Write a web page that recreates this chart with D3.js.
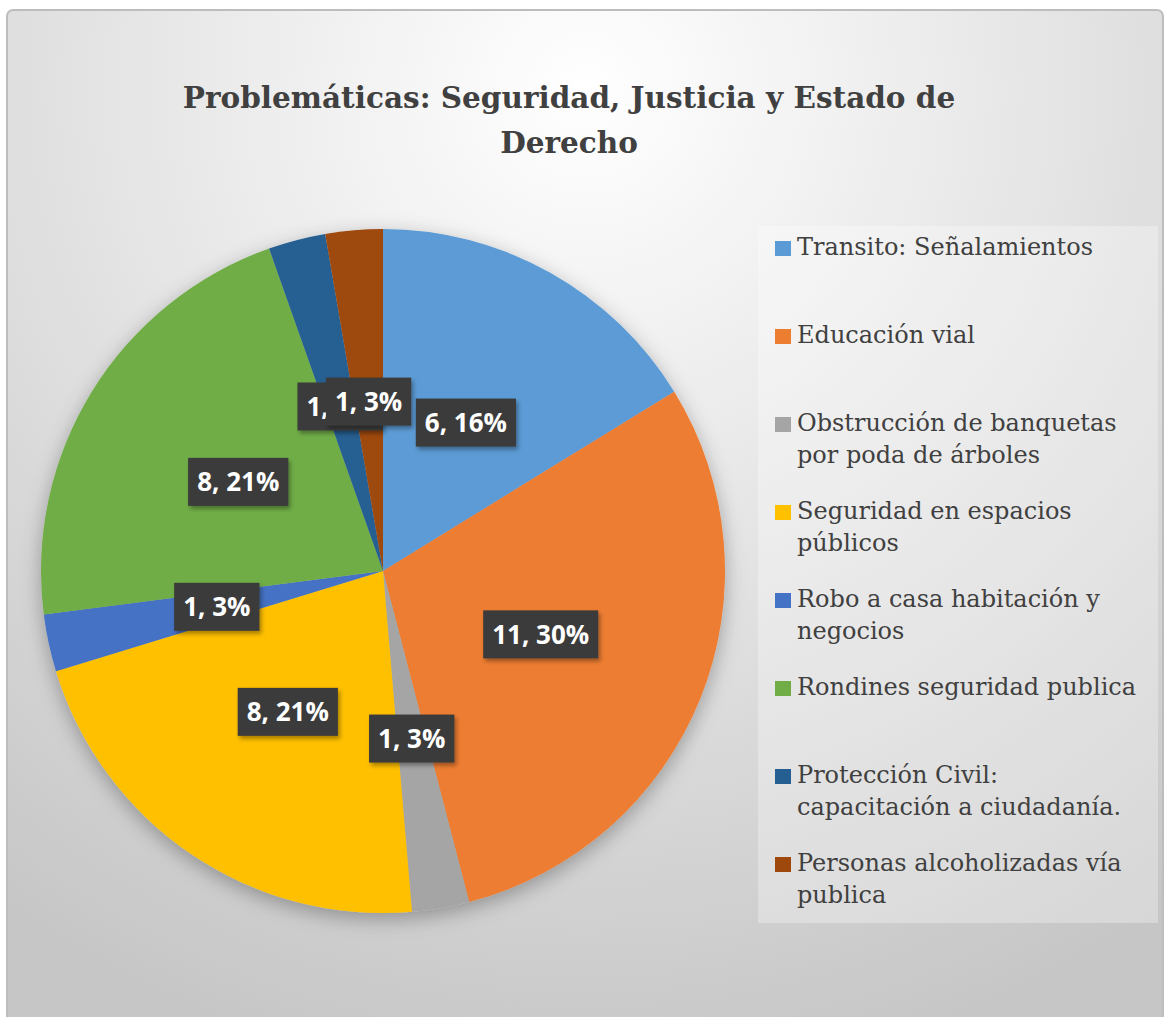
<!DOCTYPE html>
<html lang="es">
  <head>
    <meta charset="UTF-8" />
    <title>Problemáticas: Seguridad, Justicia y Estado de Derecho</title>
    <style>
      body {
        margin: 0;
        background: #fff;
      }
      .title {
        font-family: "DejaVu Serif", "Liberation Serif", serif;
        font-weight: bold;
        fill: #404040;
      }
      .legend text {
        font-family: "DejaVu Serif", "Liberation Serif", serif;
        fill: #404040;
      }
      .label text {
        font-family: "Open Sans", sans-serif;
        font-weight: bold;
        fill: #fff;
      }
    </style>
  </head>
  <body>
    <div id="chart"></div>
    <script src="https://cdn.jsdelivr.net/npm/d3@7"></script>
    <script>
      /* global d3 */

      const titleLines = [
        "Problemáticas: Seguridad, Justicia y Estado de",
        "Derecho"
      ];

      const categories = [
        "Transito: Señalamientos",
        "Educación vial",
        "Obstrucción de banquetas|por poda de árboles",
        "Seguridad en espacios|públicos",
        "Robo a casa habitación y|negocios",
        "Rondines seguridad publica",
        "Protección Civil:|capacitación a ciudadanía.",
        "Personas alcoholizadas vía|publica"
      ];

      const values = [6, 11, 1, 8, 1, 8, 1, 1];

      // percentages as printed on the data labels
      const percents = [16, 30, 3, 21, 3, 21, 3, 3];

      const colors = [
        "#5b9bd5",
        "#ed7d31",
        "#a5a5a5",
        "#ffc000",
        "#4472c4",
        "#70ad47",
        "#255e91",
        "#9e480e"
      ];

      let width = 1170,
        height = 1017;

      let cx = 383,
        cy = 571,
        radius = 342;

      let svg = d3
        .select("#chart")
        .append("svg")
        .attr("width", width)
        .attr("height", height);

      let defs = svg.append("defs");

      let bg = defs
        .append("radialGradient")
        .attr("id", "bg")
        .attr("gradientUnits", "userSpaceOnUse")
        .attr("cx", 585)
        .attr("cy", 90)
        .attr("r", 1000);
      bg.append("stop").attr("offset", "0%").attr("stop-color", "#ffffff");
      bg.append("stop").attr("offset", "45%").attr("stop-color", "#e6e6e6");
      bg.append("stop").attr("offset", "100%").attr("stop-color", "#c6c6c6");

      let pieShadow = defs
        .append("filter")
        .attr("id", "pieShadow")
        .attr("x", "-20%")
        .attr("y", "-20%")
        .attr("width", "140%")
        .attr("height", "140%");
      pieShadow
        .append("feDropShadow")
        .attr("dx", 0)
        .attr("dy", 6)
        .attr("stdDeviation", 10)
        .attr("flood-color", "#000")
        .attr("flood-opacity", 0.3);

      let boxShadow = defs
        .append("filter")
        .attr("id", "boxShadow")
        .attr("x", "-20%")
        .attr("y", "-30%")
        .attr("width", "150%")
        .attr("height", "170%");
      boxShadow
        .append("feDropShadow")
        .attr("dx", 2)
        .attr("dy", 3)
        .attr("stdDeviation", 2)
        .attr("flood-color", "#000")
        .attr("flood-opacity", 0.35);

      // chart frame
      svg
        .append("rect")
        .attr("x", 7)
        .attr("y", 10)
        .attr("width", 1156)
        .attr("height", 1030)
        .attr("rx", 6)
        .attr("fill", "url(#bg)")
        .attr("stroke", "#bdbdbd")
        .attr("stroke-width", 2);

      // title
      svg
        .append("text")
        .attr("class", "title")
        .attr("text-anchor", "middle")
        .style("font-size", "29.5px")
        .selectAll("tspan")
        .data(titleLines)
        .enter()
        .append("tspan")
        .attr("x", 569)
        .attr("y", function (d, i) {
          return 108 + i * 45;
        })
        .text(function (d) {
          return d;
        });

      // pie
      let pie = d3
        .pie()
        .sort(null)
        .value(function (d) {
          return d;
        });

      let arcs = pie(values);

      let arc = d3.arc().innerRadius(0).outerRadius(radius);
      let labelArc = d3.arc().innerRadius(170).outerRadius(170);

      let g = svg.append("g").attr("transform", `translate(${cx},${cy})`);

      g.append("g")
        .attr("filter", "url(#pieShadow)")
        .selectAll("path")
        .data(arcs)
        .enter()
        .append("path")
        .attr("d", arc)
        .attr("fill", function (d, i) {
          return colors[i];
        });

      // data labels (the last two overlap, as in the original: "1, 1, 3%")
      let label = g
        .selectAll(".label")
        .data(arcs)
        .enter()
        .append("g")
        .attr("class", "label")
        .attr("transform", function (d) {
          let c = labelArc.centroid(d);
          return `translate(${c[0]},${c[1]})`;
        });

      let labelRect = label
        .append("rect")
        .attr("fill", "#3a3a3a")
        .attr("filter", "url(#boxShadow)");

      let labelText = label
        .append("text")
        .attr("text-anchor", "middle")
        .attr("dy", "0.36em")
        .style("font-size", "26px")
        .text(function (d, i) {
          return `${values[i]}, ${percents[i]}%`;
        });

      labelRect.each(function (d, i) {
        let w = labelText.nodes()[i].getComputedTextLength() + 18;
        d3.select(this)
          .attr("x", -w / 2)
          .attr("y", -24)
          .attr("width", w)
          .attr("height", 48);
      });

      // legend
      let legend = svg.append("g").attr("class", "legend");

      legend
        .append("rect")
        .attr("x", 758)
        .attr("y", 226)
        .attr("width", 400)
        .attr("height", 697)
        .attr("fill", "#ffffff")
        .attr("fill-opacity", 0.3);

      let item = legend
        .selectAll(".item")
        .data(categories)
        .enter()
        .append("g")
        .attr("class", "item")
        .attr("transform", function (d, i) {
          return `translate(775,${255 + i * 88})`;
        });

      item
        .append("rect")
        .attr("x", 0)
        .attr("y", -14)
        .attr("width", 16)
        .attr("height", 15)
        .attr("fill", function (d, i) {
          return colors[i];
        });

      item
        .append("text")
        .style("font-size", "24px")
        .selectAll("tspan")
        .data(function (d) {
          return d.split("|");
        })
        .enter()
        .append("tspan")
        .attr("x", 22)
        .attr("y", function (d, i) {
          return i * 32;
        })
        .text(function (d) {
          return d;
        });
    </script>
  </body>
</html>
